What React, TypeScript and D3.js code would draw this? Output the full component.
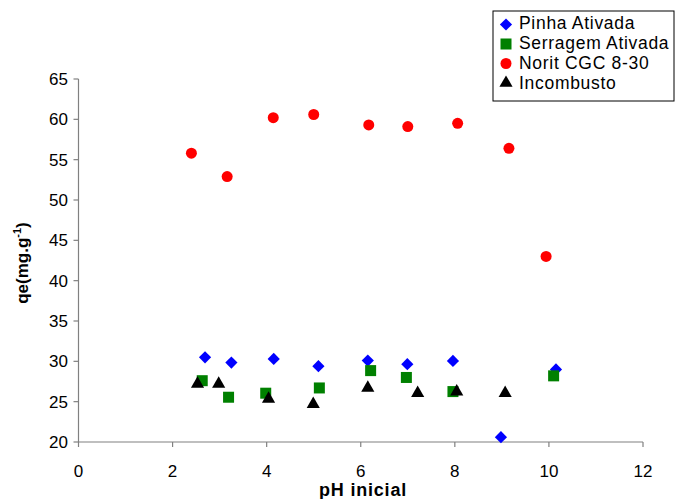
import React from "react";
import * as d3 from "d3";

const pinhaX = [2.69, 3.25, 4.15, 5.1, 6.15, 6.99, 7.96, 8.98, 10.15];
const pinhaY = [30.5, 29.85, 30.3, 29.4, 30.1, 29.65, 30.05, 20.6, 29.0];
const serrX = [2.63, 3.19, 3.98, 5.12, 6.21, 6.97, 7.96, 10.1];
const serrY = [27.6, 25.55, 26.05, 26.7, 28.85, 28.0, 26.25, 28.2];
const noritX = [2.4, 3.16, 4.14, 5.0, 6.17, 7.0, 8.06, 9.15, 9.94];
const noritY = [55.8, 52.9, 60.2, 60.6, 59.3, 59.1, 59.5, 56.4, 43.0];
const incX = [2.53, 2.98, 4.04, 4.99, 6.15, 7.21, 8.04, 9.07];
const incY = [27.2, 27.2, 25.35, 24.7, 26.7, 26.05, 26.25, 26.05];

const xTicks = [0, 2, 4, 6, 8, 10, 12];
const yTicks = [20, 25, 30, 35, 40, 45, 50, 55, 60, 65];
const legendLabels = ["Pinha Ativada", "Serragem Ativada", "Norit CGC 8-30", "Incombusto"];

const W = 675, H = 499;
const left = 78.5, right = 643, top = 79, bottom = 442;
const font = "'Liberation Sans', Arial, sans-serif";
const axisColor = "#808080";

function Marker({ kind, x, y }: { kind: number; x: number; y: number }) {
  if (kind === 0) {
    const s = d3.symbol(d3.symbolDiamond2, 95)();
    return <path d={s as string} transform={`translate(${x},${y})`} fill="#0000ff" />;
  }
  if (kind === 1) return <rect x={x - 5.5} y={y - 5.5} width={11} height={11} fill="#008000" />;
  if (kind === 2) return <circle cx={x} cy={y} r={5.5} fill="#ff0000" />;
  const s = d3.symbol(d3.symbolTriangle, 75)();
  return <path d={s as string} transform={`translate(${x},${y})`} fill="#000000" />;
}

export default function App() {
  const xs = d3.scaleLinear().domain([0, 12]).range([left, right]);
  const ys = d3.scaleLinear().domain([20, 65]).range([bottom, top]);
  const series = [
    { x: pinhaX, y: pinhaY },
    { x: serrX, y: serrY },
    { x: noritX, y: noritY },
    { x: incX, y: incY },
  ];
  return (
    <svg width={W} height={H} style={{ position: "absolute", left: 0, top: 0, background: "#fff" }}>
      <rect width={W} height={H} fill="#fff" />
      <line x1={left} y1={top} x2={left} y2={bottom} stroke={axisColor} strokeWidth={1.2} />
      <line x1={left} y1={bottom} x2={right} y2={bottom} stroke={axisColor} strokeWidth={1.2} />
      {yTicks.map((t) => (
        <g key={"y" + t}>
          <line x1={left - 5} x2={left} y1={ys(t)} y2={ys(t)} stroke={axisColor} strokeWidth={1.2} />
          <text x={68} y={ys(t) + 6} textAnchor="end" fontFamily={font} fontSize={17} fill="#000">
            {t}
          </text>
        </g>
      ))}
      {xTicks.map((t) => (
        <g key={"x" + t}>
          <line x1={xs(t)} x2={xs(t)} y1={bottom} y2={bottom + 5} stroke={axisColor} strokeWidth={1.2} />
          <text x={xs(t)} y={477} textAnchor="middle" fontFamily={font} fontSize={17} fill="#000">
            {t}
          </text>
        </g>
      ))}
      <text x={363} y={496} textAnchor="middle" fontFamily={font} fontSize={18} fontWeight="bold" letterSpacing={0.8}>
        pH inicial
      </text>
      <text transform={`translate(28,263) rotate(-90)`} textAnchor="middle" fontFamily={font} fontSize={17} fontWeight="bold">
        qe(mg.g<tspan dy={-7} fontSize={11}>-1</tspan><tspan dy={7}>)</tspan>
      </text>
      {series.map((s, k) =>
        s.x.map((v, i) => <Marker key={k + "-" + i} kind={k} x={xs(v)} y={ys(s.y[i])} />)
      )}
      <rect x={493} y={11} width={181} height={90} fill="#fff" stroke="#000" strokeWidth={1} />
      {legendLabels.map((l, i) => (
        <g key={l}>
          <Marker kind={i} x={506} y={24.5 + i * 19.5} />
          <text x={519} y={28.5 + i * 20} fontFamily={font} fontSize={17.5} letterSpacing={0.7} fill="#000">
            {l}
          </text>
        </g>
      ))}
    </svg>
  );
}
